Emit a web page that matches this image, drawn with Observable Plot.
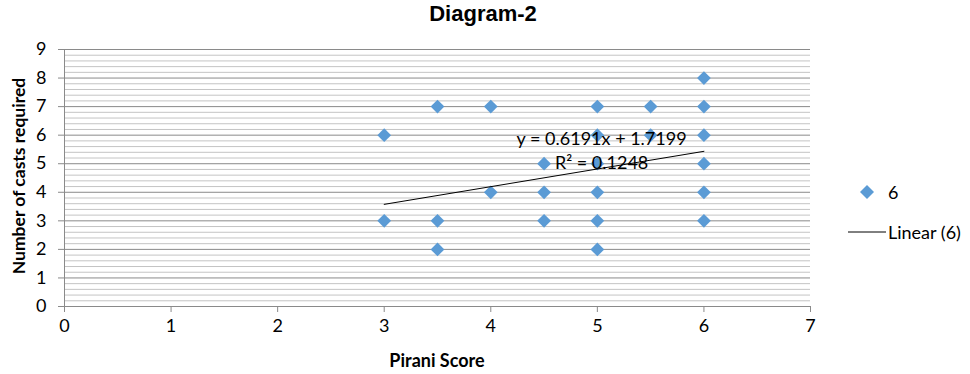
<!DOCTYPE html>
<html>
<head>
<meta charset="utf-8">
<script src="https://cdn.jsdelivr.net/npm/d3@7"></script>
<script src="https://cdn.jsdelivr.net/npm/@observablehq/plot@0.6"></script>
<style>
  body { margin: 0; background: #fff; }
  #wrap { position: relative; width: 970px; height: 374px; overflow: hidden; font-family: Lato, "Open Sans", sans-serif; }
  #title { position: absolute; top: 1px; left: 0; width: 966px; text-align: center; font: bold 22px "Liberation Sans", Arial, sans-serif; color: #000; }
  #chart { position: absolute; top: 38px; left: 0; }
  #ytitle { position: absolute; left: 18px; top: 176px; transform: translate(-50%, -50%) rotate(-90deg); white-space: nowrap; font: bold 17.5px Lato, sans-serif; color: #000; }
  #xtitle { position: absolute; left: 437px; top: 360px; transform: translate(-50%, -50%); white-space: nowrap; font: bold 18px Lato, sans-serif; color: #000; }
  #legend { position: absolute; left: 840px; top: 176px; font: 18px Lato, sans-serif; color: #000; }
  .lg { display: flex; align-items: center; height: 32px; }
  .lg + .lg { margin-top: 8px; }
</style>
</head>
<body>
<div id="wrap">
  <div id="title">Diagram-2</div>
  <div id="chart"></div>
  <div id="ytitle">Number of casts required</div>
  <div id="xtitle">Pirani Score</div>
  <div id="legend"></div>
</div>
<script>
// Data (Pirani score vs number of casts)
const pirani = [3, 3, 3.5, 3.5, 3.5, 4, 4, 4.5, 4.5, 4.5, 5, 5, 5, 5, 5, 5, 5.5, 5.5, 6, 6, 6, 6, 6, 6];
const casts  = [6, 3, 7,   3,   2,   7, 4, 5,   4,   3,   7, 6, 5, 4, 3, 2, 7,   6,   8, 7, 6, 5, 4, 3];
const seriesName = "6";
const trendName = "Linear (6)";
// Excel linear trendline shown in the reference
const trendSlope = 0.6191;
const trendIntercept = 1.7199;
const trendXRange = [3, 6];
const eqLabel = "y = 0.6191x + 1.7199";
const r2Label = "R\u00b2 = 0.1248";
const xTicks = [0, 1, 2, 3, 4, 5, 6, 7];
const yTicks = [0, 1, 2, 3, 4, 5, 6, 7, 8, 9];
const yMinorTicks = d3.range(0, 45).map(i => i / 5).filter(v => !Number.isInteger(v));

const points = pirani.map((x, i) => ({x, y: casts[i]}));
const trend = trendXRange.map(x => ({x, y: trendSlope * x + trendIntercept}));
const labelAnchor = {x: 5.04, y1: 5.85, y2: 5.0};

const blue = "#5b9bd5";

const chart = Plot.plot({
  width: 970,
  height: 336,
  marginTop: 11,
  marginBottom: 68,
  marginLeft: 64,
  marginRight: 160,
  style: {fontFamily: "Lato, 'Open Sans', sans-serif", fontSize: "18px", color: "#000", background: "#fff"},
  x: {domain: [0, 7]},
  y: {domain: [0, 9]},
  marks: [
    Plot.ruleY(yMinorTicks, {stroke: "#c4c4c4", strokeWidth: 1}),
    Plot.ruleY(yTicks, {stroke: "#8a8a8a", strokeWidth: 1}),
    Plot.ruleX([0], {stroke: "#8a8a8a", strokeWidth: 1}),
    Plot.axisX({ticks: xTicks, tickSize: 6, tickPadding: 7, stroke: "#8a8a8a", fill: "#000", fontSize: 18, label: null, tickFormat: d => String(d)}),
    Plot.axisY({ticks: yTicks, tickSize: 6, tickPadding: 12, stroke: "#8a8a8a", fill: "#000", fontSize: 18, label: null, tickFormat: d => String(d)}),
    Plot.dot(points, {x: "x", y: "y", symbol: "diamond2", r: 6.2, fill: blue, stroke: "none"}),
    Plot.line(trend, {x: "x", y: "y", stroke: "#000", strokeWidth: 1}),
    Plot.text([eqLabel], {x: labelAnchor.x, y: labelAnchor.y1, text: d => d, fontSize: 18, fill: "#000"}),
    Plot.text([r2Label], {x: labelAnchor.x, y: labelAnchor.y2, text: d => d, fontSize: 18, fill: "#000"})
  ]
});
document.getElementById("chart").appendChild(chart);

const legend = document.getElementById("legend");
legend.innerHTML = `
  <div class="lg"><svg width="46" height="20"><path d="M27,3 L34,10 L27,17 L20,10 Z" fill="${blue}"/></svg><span style="margin-left:2px">${seriesName}</span></div>
  <div class="lg"><svg width="48" height="20"><line x1="8" y1="10" x2="46" y2="10" stroke="#000" stroke-width="1"/></svg><span>${trendName}</span></div>`;
</script>
</body>
</html>
